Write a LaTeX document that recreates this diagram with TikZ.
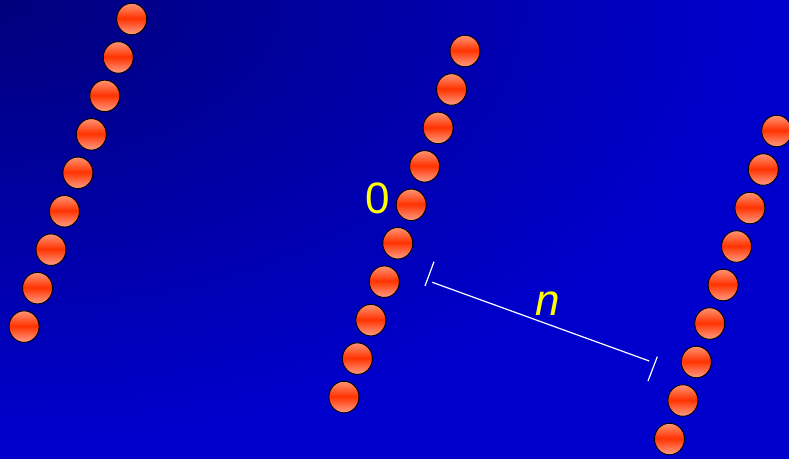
\documentclass[tikz,border=0pt]{standalone}
\usepackage{fontspec}
\setmainfont{Liberation Sans}
\usetikzlibrary{shapes.geometric}
\definecolor{bgdark}{HTML}{00007C}
\definecolor{bglight}{HTML}{0000CC}
\definecolor{beadtop}{HTML}{FF9474}
\definecolor{beadmid}{HTML}{FF3300}
\definecolor{beadlow}{HTML}{FF9E86}
\definecolor{lbl}{HTML}{FFFF00}
\pgfdeclareverticalshading{beadshade}{100bp}{color(0bp)=(beadlow); color(25bp)=(beadlow); color(51bp)=(beadmid); color(75bp)=(beadtop); color(100bp)=(beadtop)}
\pgfdeclareradialshading{glow}{\pgfpointorigin}{color(0bp)=(bgdark); color(16bp)=(bglight); color(50bp)=(bglight)}
\tikzset{
  bead/.style={ellipse,draw=black,line width=0.9pt,shade,shading=beadshade,minimum width=30pt,minimum height=31.5pt,inner sep=0pt},
  lab/.style={text=lbl,inner sep=0pt,font=\fontsize{44}{48}\selectfont},
  dim/.style={draw=white,line width=1.2pt},
}

\begin{document}
\begin{tikzpicture}[x=1pt,y=-1pt]
\useasboundingbox (0,0) rectangle (789,458);
\begin{scope}
\clip (0,0) rectangle (789,458);
\shade[shading=glow] (0,0) ellipse [x radius=1180, y radius=690];
\end{scope}
\foreach \i in {1,...,9}
  \node[bead] (L\i) at ({131.7-13.45*(\i-1)},{19+38.45*(\i-1)}) {};
\foreach \i in {1,...,10}
  \node[bead] (M\i) at ({465-13.45*(\i-1)},{51+38.45*(\i-1)}) {};
\foreach \i in {1,...,9}
  \node[bead] (R\i) at ({776.7-13.4*(\i-1)},{131+38.5*(\i-1)}) {};
\node[lab] (zero) at (378,198.5) {0};
\coordinate (tickA1) at (434,261.7);
\coordinate (tickA2) at (425,286);
\coordinate (tickB1) at (657.3,356.7);
\coordinate (tickB2) at (648,381);
\coordinate (dimA) at (432.3,282.3);
\coordinate (dimB) at (649.3,361);
\draw[dim] (tickA1) -- (tickA2);
\draw[dim] (tickB1) -- (tickB2);
\draw[dim] (dimA) -- (dimB);
\node[lab,font=\fontsize{44}{48}\selectfont\itshape] (nlbl) at (547.5,303.5) {n};
\end{tikzpicture}
\end{document}
